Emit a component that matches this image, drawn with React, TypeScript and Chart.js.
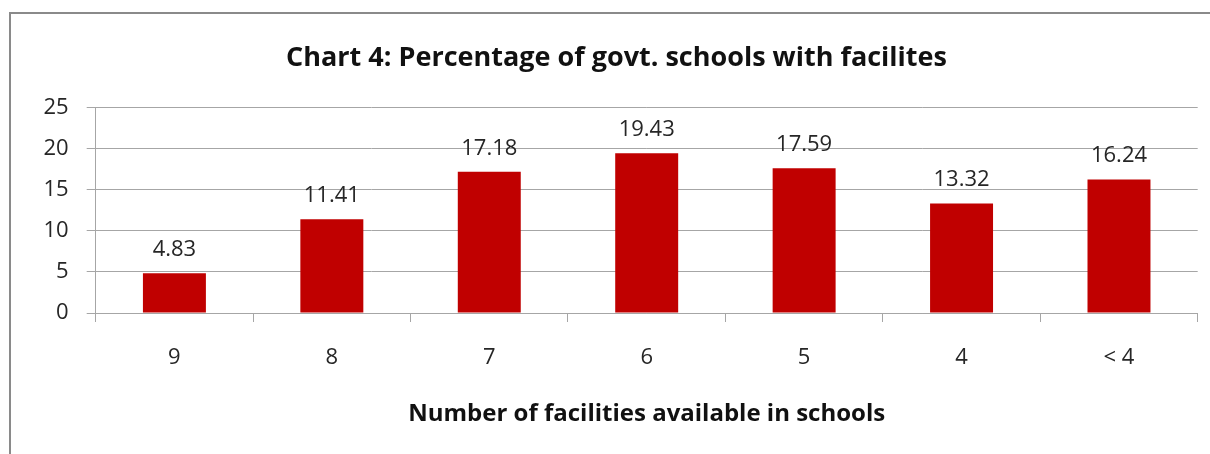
import React, { useEffect, useRef } from "react";
import { Chart, registerables } from "chart.js";

Chart.register(...registerables);

const categories = ["9", "8", "7", "6", "5", "4", "< 4"];
const percentages = [4.83, 11.41, 17.18, 19.43, 17.59, 13.32, 16.24];
const yTicks = [0, 5, 10, 15, 20, 25];
const titleText = "Chart 4: Percentage of govt. schools with facilites";
const xAxisTitle = "Number of facilities available in schools";

const FONT = "'Open Sans', Lato, 'DejaVu Sans', sans-serif";
const GRID = "#a6a6a6";
const TEXT = "#262626";

const valueLabels = {
  id: "valueLabels",
  afterDatasetsDraw(chart: any) {
    const ctx = chart.ctx;
    const meta = chart.getDatasetMeta(0);
    ctx.save();
    ctx.font = `22px ${FONT}`;
    ctx.fillStyle = TEXT;
    ctx.textAlign = "center";
    ctx.textBaseline = "alphabetic";
    meta.data.forEach((bar: any, i: number) => {
      ctx.fillText(percentages[i].toFixed(2), bar.x, bar.y - 17);
    });
    ctx.restore();
  },
};

export default function App() {
  const ref = useRef<HTMLCanvasElement | null>(null);

  useEffect(() => {
    if (!ref.current) return;
    const chart = new Chart(ref.current, {
      type: "bar",
      data: {
        labels: categories,
        datasets: [
          {
            data: percentages,
            backgroundColor: "#c00000",
            borderWidth: 0,
            barPercentage: 0.4,
            categoryPercentage: 1,
          },
        ],
      },
      options: {
        animation: false,
        responsive: false,
        devicePixelRatio: 1,
        layout: { padding: 0 },
        plugins: {
          legend: { display: false },
          tooltip: { enabled: false },
          title: {
            display: true,
            text: titleText,
            color: "#111111",
            font: { family: FONT, size: 27, weight: "bold" },
            padding: { top: 28, bottom: 33 },
          },
        },
        scales: {
          x: {
            grid: {
              display: true,
              offset: true,
              drawOnChartArea: false,
              drawTicks: true,
              tickLength: 9,
              color: GRID,
            },
            border: { display: true, color: GRID, width: 1 },
            ticks: {
              color: TEXT,
              font: { family: FONT, size: 22 },
              padding: 23,
              maxRotation: 0,
            },
            title: {
              display: true,
              text: xAxisTitle,
              color: "#111111",
              font: { family: FONT, size: 24, weight: "bold" },
              padding: { top: 0, bottom: 25 },
            },
            afterFit(scale: any) {
              scale.height = 141;
            },
          },
          y: {
            min: 0,
            max: 25,
            grid: {
              color: GRID,
              drawTicks: true,
              tickLength: 9,
            },
            border: { display: true, color: GRID, width: 1 },
            ticks: {
              color: TEXT,
              font: { family: FONT, size: 22 },
              padding: 18,
            },
            afterBuildTicks(scale: any) {
              scale.ticks = yTicks.map((v) => ({ value: v }));
            },
            afterFit(scale: any) {
              scale.width = 84.7;
            },
          },
          y2: {
            position: "right",
            display: true,
            grid: { display: false, drawTicks: false },
            border: { display: false },
            ticks: { display: false },
            afterFit(scale: any) {
              scale.width = 24.3;
            },
          },
        },
      },
      plugins: [valueLabels],
    } as any);
    return () => chart.destroy();
  }, []);

  return (
    <div
      style={{
        position: "fixed",
        left: 0,
        top: 0,
        width: 1210,
        height: 454,
        overflow: "hidden",
        background: "#ffffff",
      }}
    >
      <div
        style={{
          position: "absolute",
          left: 9,
          top: 12,
          width: 1400,
          height: 600,
          borderLeft: "2px solid #8a8a8a",
          borderTop: "2px solid #8a8a8a",
        }}
      />
      <canvas
        ref={ref}
        width={1211}
        height={440}
        style={{ position: "absolute", left: 11, top: 14, width: 1211, height: 440 }}
      />
    </div>
  );
}
